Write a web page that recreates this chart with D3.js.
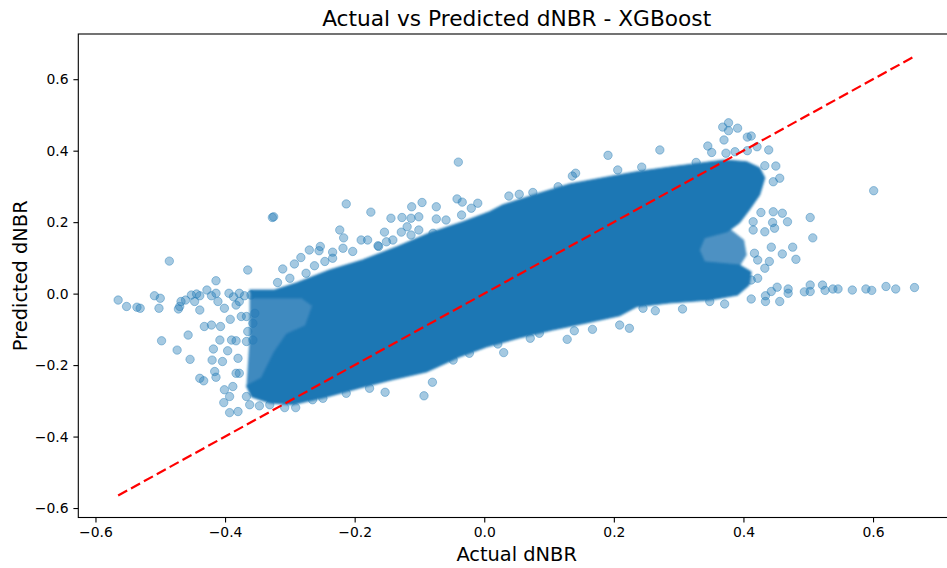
<!DOCTYPE html>
<html>
<head>
<meta charset="utf-8">
<script src="https://cdn.jsdelivr.net/npm/d3@7"></script>
<style>
body { margin: 0; background: #fff; overflow: hidden; }
svg text { font-family: "DejaVu Sans", sans-serif; fill: #000; }
</style>
</head>
<body>
<svg class="scatter"></svg>
<script>
/* data */
var xTicks = [-0.6, -0.4, -0.2, 0.0, 0.2, 0.4, 0.6];
var yTicks = [-0.6, -0.4, -0.2, 0.0, 0.2, 0.4, 0.6];

// range of actual dNBR, used for the 1:1 line
var actualRange = [-0.565, 0.665];

// outline of the solid (overplotted) core of the cloud
var coreOutline = [
  [-0.362, 0.010], [-0.324, 0.010], [-0.290, 0.030], [-0.239, 0.066], [-0.188, 0.094],
  [-0.135, 0.131], [-0.084, 0.170], [-0.033, 0.201], [0.008, 0.229], [0.028, 0.248],
  [0.081, 0.279], [0.132, 0.307], [0.183, 0.324], [0.235, 0.341], [0.286, 0.354],
  [0.337, 0.366], [0.371, 0.374], [0.405, 0.369], [0.425, 0.352], [0.433, 0.324],
  [0.425, 0.276], [0.409, 0.234], [0.394, 0.198], [0.375, 0.173], [0.340, 0.156],
  [0.332, 0.122], [0.340, 0.089], [0.394, 0.080], [0.412, 0.061], [0.409, 0.024],
  [0.391, -0.004], [0.348, -0.018], [0.286, -0.026], [0.235, -0.037], [0.209, -0.062],
  [0.158, -0.082], [0.105, -0.102], [0.054, -0.124], [0.004, -0.149], [-0.038, -0.177],
  [-0.089, -0.219], [-0.142, -0.241], [-0.192, -0.264], [-0.243, -0.289], [-0.296, -0.311],
  [-0.331, -0.306], [-0.359, -0.289], [-0.367, -0.258], [-0.344, -0.236], [-0.324, -0.163],
  [-0.305, -0.113], [-0.276, -0.090], [-0.265, -0.034], [-0.282, -0.012], [-0.359, -0.012]
];

// thinner, half-covered parts of the cloud (drawn under the core)
var fringeLeft = [
  [-0.362, -0.005], [-0.275, -0.005], [-0.258, -0.034], [-0.270, -0.095], [-0.298, -0.118],
  [-0.318, -0.168], [-0.338, -0.240], [-0.367, -0.262], [-0.362, -0.120]
];
var fringeRight = [
  [0.330, 0.166], [0.380, 0.180], [0.401, 0.150], [0.405, 0.108], [0.394, 0.076],
  [0.330, 0.080], [0.322, 0.122]
];

// single points outside the core: [actual, predicted]
var outliers = [
  [-0.565, -0.018], [-0.552, -0.036], [-0.536, -0.038], [-0.531, -0.041], [-0.509, -0.006],
  [-0.500, -0.013], [-0.502, -0.041], [-0.498, -0.132], [-0.474, -0.158], [-0.457, -0.116],
  [-0.454, -0.184], [-0.470, -0.036], [-0.472, -0.043], [-0.468, -0.022], [-0.452, -0.004],
  [-0.444, -0.001], [-0.447, -0.022], [-0.439, -0.046], [-0.428, 0.010], [-0.414, 0.036],
  [-0.414, 0.001], [-0.411, -0.022], [-0.394, 0.001], [-0.401, -0.041], [-0.378, 0.001],
  [-0.383, -0.032], [-0.375, -0.064], [-0.392, -0.072], [-0.365, 0.066], [-0.432, -0.092],
  [-0.421, -0.088], [-0.407, -0.092], [-0.408, -0.130], [-0.418, -0.155], [-0.420, -0.186],
  [-0.404, -0.190], [-0.416, -0.218], [-0.414, -0.234], [-0.439, -0.237], [-0.433, -0.244],
  [-0.390, -0.130], [-0.383, -0.132], [-0.396, -0.160], [-0.380, -0.181], [-0.367, -0.134],
  [-0.357, -0.130], [-0.383, -0.223], [-0.378, -0.223], [-0.401, -0.269], [-0.402, -0.305],
  [-0.393, -0.333], [-0.380, -0.330], [-0.362, -0.311], [-0.367, -0.288], [-0.393, -0.288],
  [-0.388, -0.260], [-0.367, -0.064], [-0.365, -0.106], [-0.357, -0.083], [-0.354, -0.055],
  [-0.378, -0.022], [-0.360, -0.004], [-0.486, 0.091], [-0.461, -0.018], [-0.439, -0.006],
  [-0.421, -0.006], [-0.387, -0.009], [-0.370, -0.006], [-0.347, -0.314], [-0.331, -0.311],
  [-0.308, -0.319], [-0.291, -0.319], [-0.265, -0.297], [-0.249, -0.293], [-0.213, -0.279],
  [-0.177, -0.265], [-0.153, -0.276], [-0.080, -0.248], [-0.093, -0.286], [-0.048, -0.186],
  [-0.023, -0.167], [0.021, -0.141], [0.030, -0.165], [0.071, -0.125], [0.085, -0.111],
  [0.128, -0.128], [0.139, -0.104], [0.167, -0.100], [0.209, -0.088], [0.224, -0.097],
  [0.245, -0.041], [0.264, -0.048], [0.306, -0.043], [0.348, -0.022], [0.371, -0.029],
  [0.412, -0.015], [0.434, -0.006], [0.434, -0.022], [0.456, -0.022], [0.443, 0.006],
  [0.452, 0.018], [0.469, 0.013], [0.469, 0.001], [0.494, 0.005], [0.503, 0.024],
  [0.503, 0.006], [0.522, 0.024], [0.526, 0.009], [0.538, 0.013], [0.546, 0.013],
  [0.568, 0.010], [0.589, 0.013], [0.598, 0.009], [0.620, 0.020], [0.635, 0.013],
  [0.664, 0.017], [0.412, 0.038], [0.422, 0.043], [0.440, 0.090], [0.433, 0.071],
  [0.417, 0.113], [0.422, 0.094], [0.460, 0.111], [0.481, 0.096], [0.443, 0.130],
  [0.476, 0.130], [0.507, 0.156], [0.503, 0.213], [0.468, 0.201], [0.460, 0.225],
  [0.446, 0.229], [0.427, 0.227], [0.445, 0.199], [0.448, 0.183], [0.433, 0.173],
  [0.415, 0.201], [0.415, 0.178], [0.601, 0.288], [0.456, 0.323], [0.446, 0.313],
  [0.433, 0.358], [0.450, 0.357], [0.439, 0.402], [0.421, 0.411], [0.406, 0.400],
  [0.406, 0.438], [0.412, 0.441], [0.368, 0.466], [0.377, 0.478], [0.391, 0.463],
  [0.377, 0.456], [0.370, 0.430], [0.345, 0.413], [0.351, 0.395], [0.373, 0.393],
  [0.387, 0.397], [0.327, 0.367], [0.271, 0.402], [0.191, 0.387], [0.206, 0.346],
  [0.243, 0.354], [0.141, 0.337], [0.136, 0.329], [0.114, 0.299], [0.075, 0.283],
  [0.054, 0.278], [0.038, 0.273], [-0.040, 0.368], [-0.042, 0.265], [-0.034, 0.256],
  [-0.035, 0.220], [-0.020, 0.239], [-0.010, 0.253], [-0.059, 0.206], [-0.074, 0.243],
  [-0.074, 0.209], [-0.079, 0.169], [-0.096, 0.255], [-0.112, 0.243], [-0.101, 0.215],
  [-0.101, 0.178], [-0.119, 0.187], [-0.128, 0.172], [-0.127, 0.213], [-0.113, 0.211],
  [-0.113, 0.164], [-0.144, 0.211], [-0.141, 0.150], [-0.154, 0.172], [-0.151, 0.145],
  [-0.163, 0.132], [-0.175, 0.228], [-0.180, 0.150], [-0.190, 0.150], [-0.203, 0.118],
  [-0.213, 0.251], [-0.223, 0.178], [-0.217, 0.156], [-0.218, 0.127], [-0.234, 0.116],
  [-0.253, 0.132], [-0.255, 0.120], [-0.270, 0.122], [-0.283, 0.101], [-0.293, 0.083],
  [-0.311, 0.069], [-0.319, 0.031], [-0.325, 0.215], [-0.327, 0.213], [-0.262, 0.078],
  [-0.246, 0.090], [-0.234, 0.099], [-0.275, 0.057], [-0.300, 0.043], [-0.164, 0.134]
];

var margin = {top: 34, left: 78.3},
    width = 876.7,
    height = 483.5;

var blue = "#1f77b4";

var x = d3.scaleLinear()
    .domain([-0.6265, 0.7265])
    .range([0, width]);

var y = d3.scaleLinear()
    .domain([-0.6265, 0.7265])
    .range([height, 0]);

var svg = d3.select(".scatter")
    .attr("width", 947)
    .attr("height", 568);

// soften the edge of the overplotted cloud a little
svg.append("defs").append("filter")
    .attr("id", "soft")
  .append("feGaussianBlur")
    .attr("stdDeviation", 0.9);

var g = svg.append("g")
    .attr("transform", "translate(" + margin.left + "," + margin.top + ")");

var area = d3.line()
    .x(function(d) { return x(d[0]); })
    .y(function(d) { return y(d[1]); })
    .curve(d3.curveLinearClosed);

// points first, the solid core drawn over them
g.selectAll(".dot")
    .data(outliers)
  .enter().append("circle")
    .attr("class", "dot")
    .attr("cx", function(d) { return x(d[0]); })
    .attr("cy", function(d) { return y(d[1]); })
    .attr("r", 4.2)
    .attr("fill", blue)
    .attr("fill-opacity", 0.4)
    .attr("stroke", blue)
    .attr("stroke-opacity", 0.4)
    .attr("stroke-width", 1);

var cloud = g.append("g")
    .attr("filter", "url(#soft)");

cloud.append("path")
    .datum(fringeLeft)
    .attr("d", area)
    .attr("fill", blue)
    .attr("fill-opacity", 0.86);

cloud.append("path")
    .datum(fringeRight)
    .attr("d", area)
    .attr("fill", blue)
    .attr("fill-opacity", 0.8);

cloud.append("path")
    .datum(coreOutline)
    .attr("d", area)
    .attr("fill", blue)
    .attr("stroke", blue)
    .attr("stroke-width", 1);

// 1:1 line
g.append("line")
    .attr("x1", x(actualRange[0]))
    .attr("y1", y(actualRange[0]))
    .attr("x2", x(actualRange[1]))
    .attr("y2", y(actualRange[1]))
    .attr("stroke", "red")
    .attr("stroke-width", 2.2)
    .attr("stroke-dasharray", "10.3,4.4");

// axes
var fmt = d3.format(".1f");

var xAxis = d3.axisBottom(x)
    .tickValues(xTicks)
    .tickFormat(fmt)
    .tickSize(4.9)
    .tickPadding(4.9);

var yAxis = d3.axisLeft(y)
    .tickValues(yTicks)
    .tickFormat(fmt)
    .tickSize(4.9)
    .tickPadding(4.9);

g.append("g")
    .attr("transform", "translate(0," + height + ")")
    .call(xAxis)
    .call(function(a) { a.select(".domain").remove(); });

g.append("g")
    .call(yAxis)
    .call(function(a) { a.select(".domain").remove(); });

g.selectAll(".tick line").attr("stroke", "#000").attr("stroke-width", 1.1);
g.selectAll(".tick text")
    .attr("font-family", "DejaVu Sans")
    .attr("font-size", "13.9px")
    .attr("fill", "#000");

g.append("rect")
    .attr("width", width)
    .attr("height", height)
    .attr("fill", "none")
    .attr("stroke", "#000")
    .attr("stroke-width", 1.1);

// titles
svg.append("text")
    .attr("x", margin.left + width / 2)
    .attr("y", 26)
    .attr("text-anchor", "middle")
    .style("font-size", "21.7px")
    .text("Actual vs Predicted dNBR - XGBoost");

svg.append("text")
    .attr("x", margin.left + width / 2)
    .attr("y", 561)
    .attr("text-anchor", "middle")
    .style("font-size", "19.4px")
    .text("Actual dNBR");

svg.append("text")
    .attr("transform", "translate(26.5," + (margin.top + height / 2) + ") rotate(-90)")
    .attr("text-anchor", "middle")
    .style("font-size", "19.4px")
    .text("Predicted dNBR");
</script>
</body>
</html>
